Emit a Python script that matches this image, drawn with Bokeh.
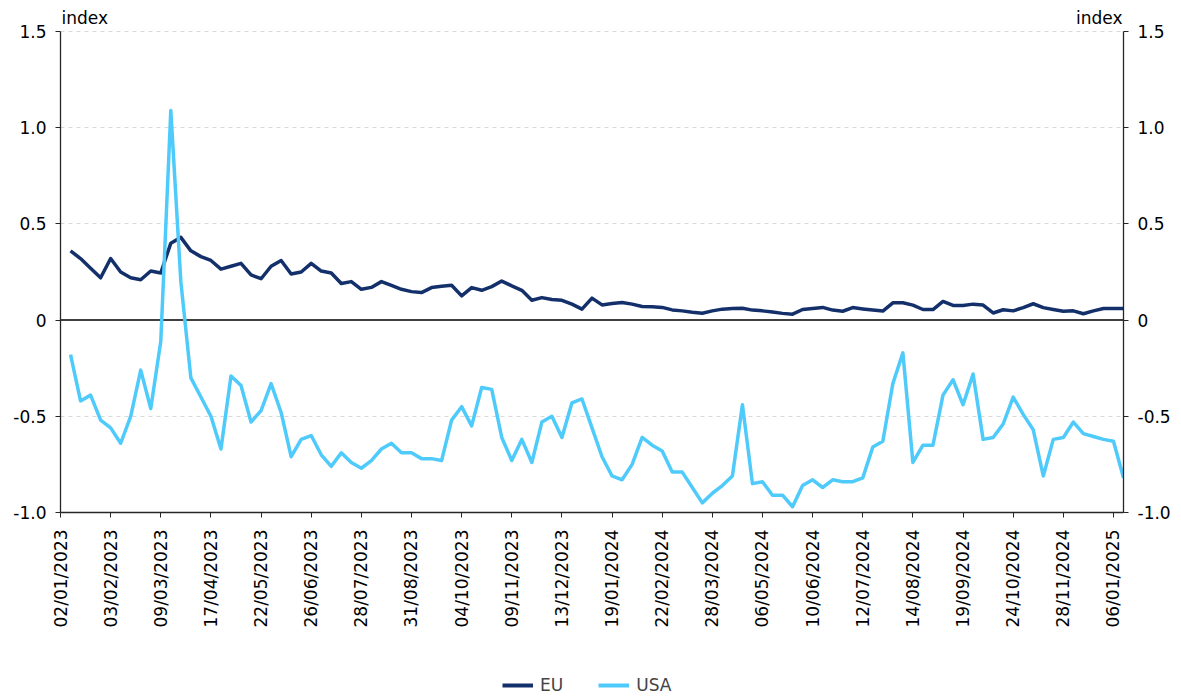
import math
from bokeh.plotting import figure
from bokeh.layouts import column
from bokeh.models import (Range1d, LinearAxis, FixedTicker, CustomJSTickFormatter,
                          Span, Label, Legend, LegendItem)
from bokeh.embed import file_html
from bokeh.resources import INLINE

# Category axis labels (every 5th category, first category has no data)
tick_dates = ["02/01/2023", "03/02/2023", "09/03/2023", "17/04/2023", "22/05/2023",
              "26/06/2023", "28/07/2023", "31/08/2023", "04/10/2023", "09/11/2023",
              "13/12/2023", "19/01/2024", "22/02/2024", "28/03/2024", "06/05/2024",
              "10/06/2024", "12/07/2024", "14/08/2024", "19/09/2024", "24/10/2024",
              "28/11/2024", "06/01/2025"]

eu = [0.36, 0.32, 0.27, 0.22, 0.32, 0.25, 0.22, 0.21, 0.255, 0.245,
      0.40, 0.43, 0.36, 0.33, 0.31, 0.265, 0.28, 0.295, 0.235, 0.215,
      0.28, 0.31, 0.24, 0.25, 0.295, 0.255, 0.245, 0.19, 0.20, 0.16,
      0.17, 0.20, 0.18, 0.16, 0.148, 0.143, 0.169, 0.176, 0.181, 0.126,
      0.169, 0.155, 0.174, 0.203, 0.178, 0.155, 0.103, 0.117, 0.107, 0.103,
      0.083, 0.057, 0.114, 0.079, 0.086, 0.091, 0.083, 0.071, 0.069, 0.066,
      0.053, 0.048, 0.041, 0.036, 0.048, 0.057, 0.060, 0.062, 0.052, 0.048,
      0.042, 0.035, 0.031, 0.055, 0.060, 0.066, 0.052, 0.046, 0.065, 0.058,
      0.052, 0.047, 0.090, 0.090, 0.078, 0.055, 0.055, 0.097, 0.076, 0.076,
      0.083, 0.078, 0.037, 0.054, 0.048, 0.065, 0.085, 0.065, 0.055, 0.046,
      0.048, 0.033, 0.048, 0.060, 0.060, 0.060]

usa = [-0.18, -0.42, -0.39, -0.52, -0.56, -0.64, -0.50, -0.26, -0.46, -0.11,
       1.09, 0.20, -0.30, -0.40, -0.50, -0.67, -0.29, -0.34, -0.53, -0.47,
       -0.33, -0.48, -0.71, -0.62, -0.60, -0.70, -0.76, -0.69, -0.74, -0.77,
       -0.73, -0.67, -0.64, -0.69, -0.69, -0.72, -0.72, -0.73, -0.52, -0.45,
       -0.55, -0.35, -0.36, -0.61, -0.73, -0.62, -0.74, -0.53, -0.50, -0.61,
       -0.43, -0.41, -0.56, -0.71, -0.81, -0.83, -0.75, -0.61, -0.65, -0.68,
       -0.79, -0.79, -0.87, -0.95, -0.90, -0.86, -0.81, -0.44, -0.85, -0.84,
       -0.91, -0.91, -0.97, -0.86, -0.83, -0.87, -0.83, -0.84, -0.84, -0.82,
       -0.66, -0.63, -0.33, -0.17, -0.74, -0.65, -0.65, -0.39, -0.31, -0.44,
       -0.28, -0.62, -0.61, -0.54, -0.40, -0.49, -0.57, -0.81, -0.62, -0.61,
       -0.53, -0.59, -0.605, -0.62, -0.63, -0.82]

y_ticks = [-1.0, -0.5, 0.0, 0.5, 1.0, 1.5]

FONT = "DejaVu Sans"
FS = "17px"
AXIS_COLOR = "#262626"
EU_COLOR = "#14306b"
USA_COLOR = "#4fcbfb"
LW = 3.5

n_cat = len(eu) + 1
x = list(range(1, n_cat))
x_ticks = list(range(0, n_cat, 5))

W = 1173
p = figure(width=W, height=650, output_backend="svg", toolbar_location=None,
           x_range=Range1d(0, n_cat - 1), y_range=Range1d(-1.0, 1.63),
           min_border_left=60, min_border_right=48, min_border_top=6,
           min_border_bottom=138)
p.outline_line_color = None
p.background_fill_color = "white"

# x axis
xa = p.xaxis[0]
xa.ticker = FixedTicker(ticks=x_ticks)
xa.major_label_overrides = {t: d for t, d in zip(x_ticks, tick_dates)}
xa.major_label_orientation = math.pi / 2
xa.major_tick_out = 5
xa.major_tick_in = 0
xa.minor_tick_out = 0
xa.minor_tick_in = 0
xa.axis_line_color = AXIS_COLOR
xa.axis_line_width = 1.3
xa.major_tick_line_color = AXIS_COLOR
xa.major_label_standoff = 12
xa.major_label_text_font = FONT
xa.major_label_text_font_size = FS
xa.major_label_text_color = "black"

fmt = CustomJSTickFormatter(code="return tick == 0 ? '0' : tick.toFixed(1);")

ya = p.yaxis[0]
ra = LinearAxis()
p.add_layout(ra, "right")
for ax in (ya, ra):
    ax.ticker = FixedTicker(ticks=y_ticks)
    ax.formatter = fmt
    ax.bounds = (-1.0, 1.5)
    ax.major_tick_out = 5
    ax.major_tick_in = 0
    ax.minor_tick_out = 0
    ax.minor_tick_in = 0
    ax.axis_line_color = AXIS_COLOR
    ax.axis_line_width = 1.3
    ax.major_tick_line_color = AXIS_COLOR
    ax.major_label_standoff = 9
    ax.major_label_text_font = FONT
    ax.major_label_text_font_size = FS
    ax.major_label_text_color = "black"

p.xgrid.visible = False
p.ygrid.ticker = FixedTicker(ticks=[-0.5, 0.5, 1.0, 1.5])
p.ygrid.grid_line_color = "#d9d9d9"
p.ygrid.grid_line_dash = "4 4"
p.ygrid.grid_line_width = 1

zero = Span(location=0, dimension="width", line_color="black", line_width=1.5,
            level="underlay")
p.add_layout(zero)

p.line(x, eu, line_color=EU_COLOR, line_width=LW, line_join="round")
p.line(x, usa, line_color=USA_COLOR, line_width=LW, line_join="round")

for xpos, align, off in ((0, "left", 1), (n_cat - 1, "right", -1)):
    p.add_layout(Label(x=xpos, y=1.5, text="index", x_offset=off, y_offset=4,
                       text_align=align, text_baseline="bottom",
                       text_font=FONT, text_font_size=FS, text_color="black"))

# legend strip below the chart (its frame is aligned with the chart's frame)
lg = figure(width=W, height=47, output_backend="svg", toolbar_location=None,
            x_range=Range1d(0, 1), y_range=Range1d(0, 1),
            x_axis_type=None, y_axis_type=None,
            min_border_left=0, min_border_right=0, min_border_top=0,
            min_border_bottom=0)
lg.outline_line_color = None
lg.xgrid.visible = False
lg.ygrid.visible = False
# key samples: placed outside the visible range, only their legend keys show
k_eu = lg.line([-5, -4], [-5, -4], line_color=EU_COLOR, line_width=4)
k_usa = lg.line([-5, -4], [-5, -4], line_color=USA_COLOR, line_width=4)
legend = Legend(items=[LegendItem(label="EU", renderers=[k_eu]),
                       LegendItem(label="USA", renderers=[k_usa])],
                orientation="horizontal", location=(442, 2),
                glyph_width=31, glyph_height=18, label_height=18,
                label_standoff=7, spacing=35, padding=0, margin=0,
                border_line_color=None, background_fill_alpha=0,
                label_text_font=FONT, label_text_font_size=FS)
lg.add_layout(legend)

layout = column(p, lg, spacing=0)
open("out.html", "w").write(file_html(layout, INLINE))
